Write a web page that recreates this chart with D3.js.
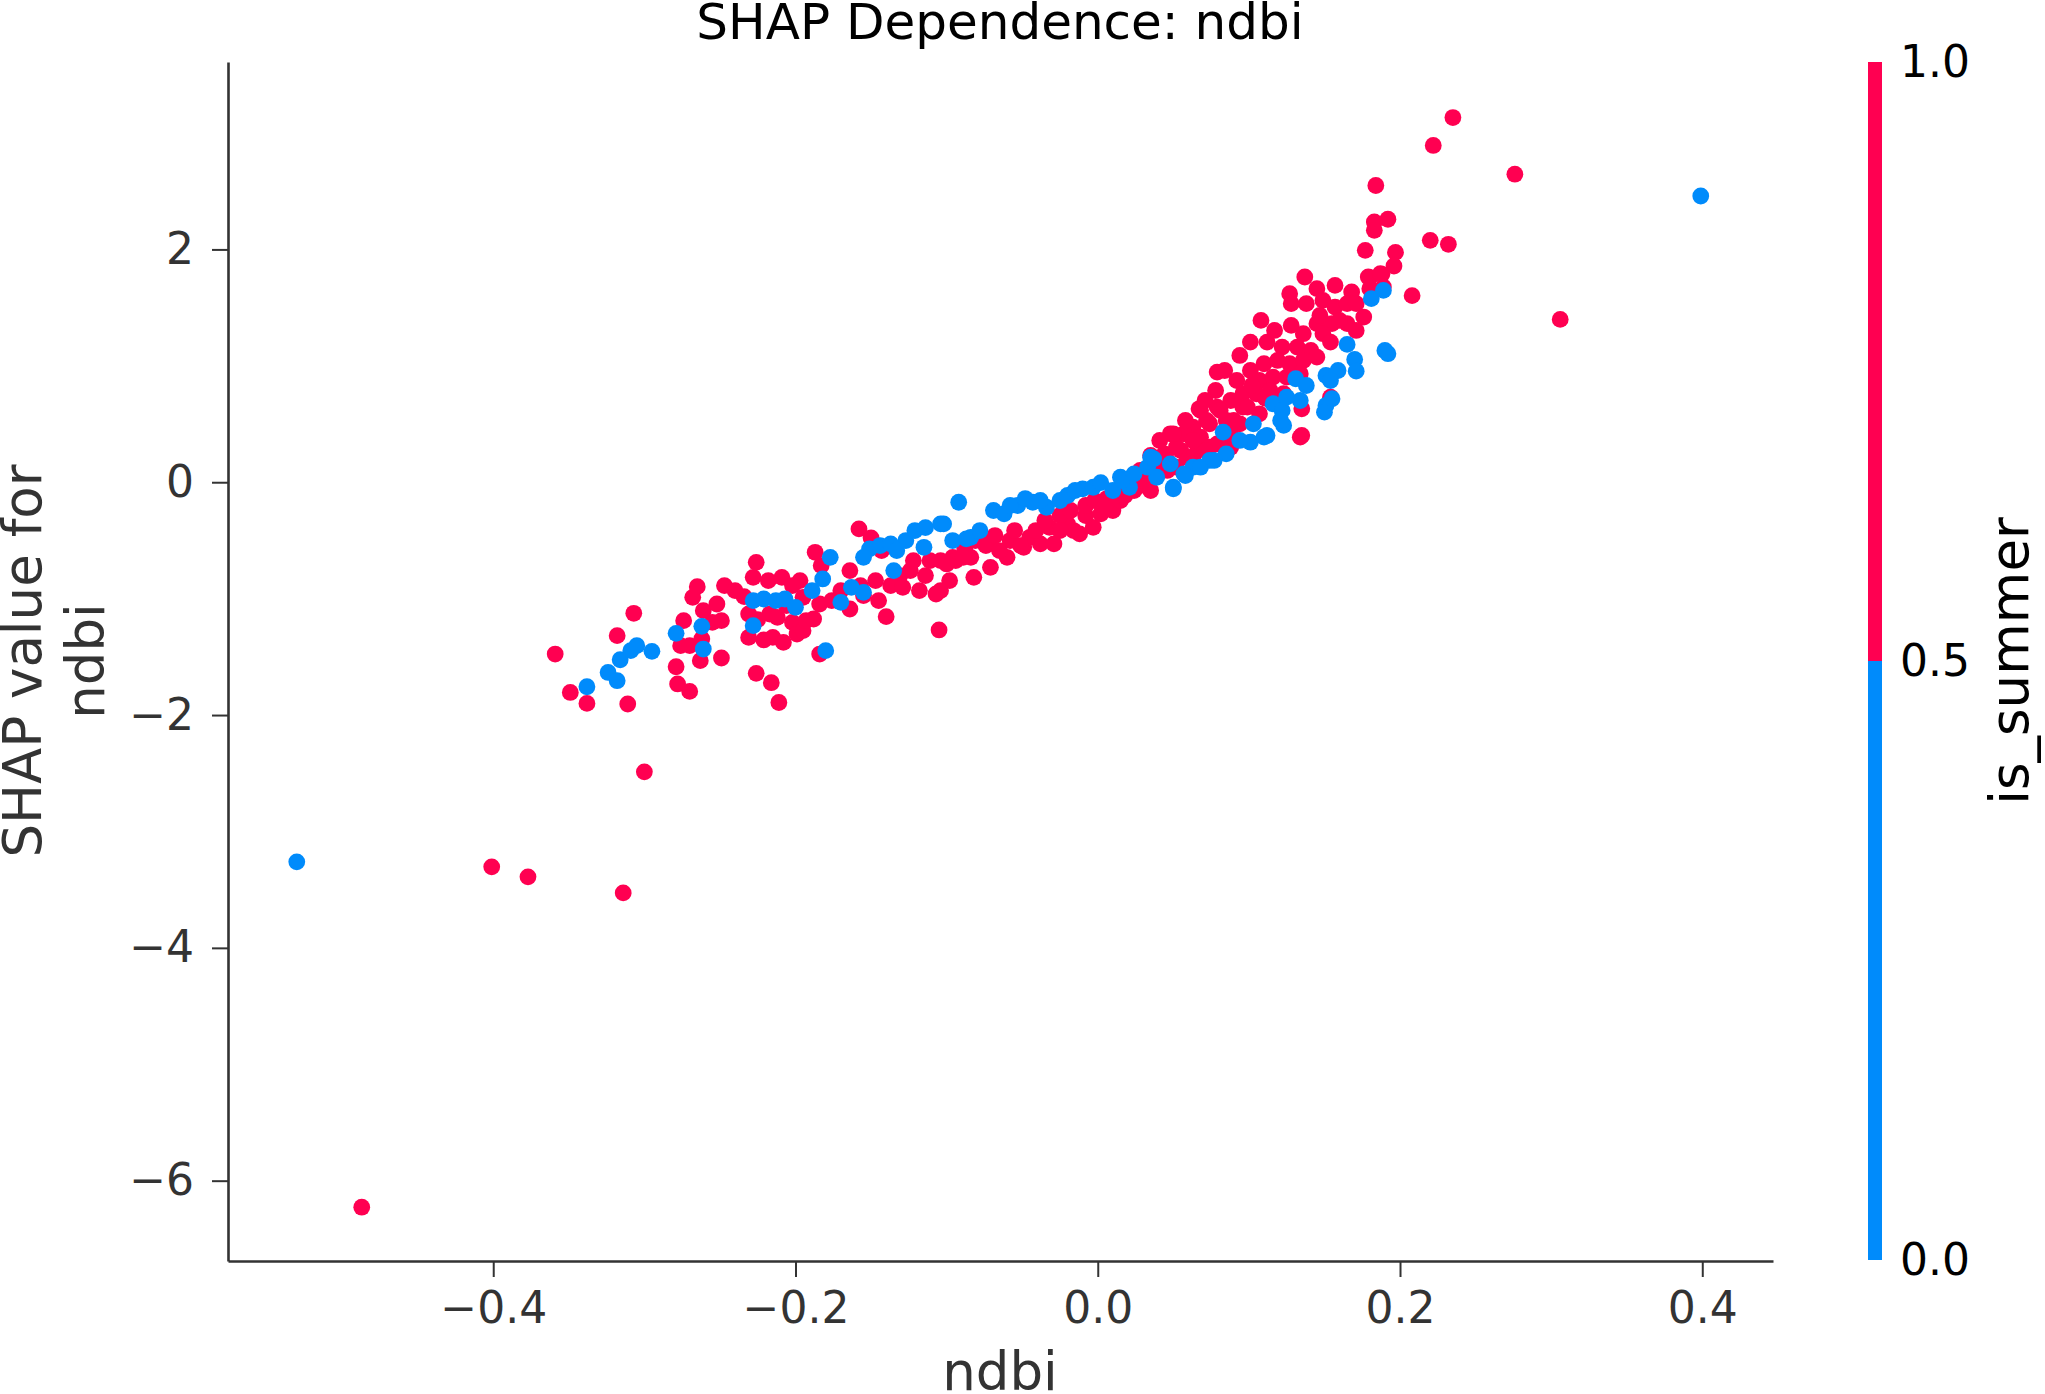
<!DOCTYPE html>
<html>
<head>
<meta charset="utf-8">
<script src="https://cdn.jsdelivr.net/npm/d3@7"></script>
<style>
  body { margin: 0; background: #fff; }
  svg { display: block; font-family: "DejaVu Sans", sans-serif; }
</style>
</head>
<body>
<svg id="chart"></svg>
<script>
// is_summer = 1 (ndbi, SHAP value)
const summerPoints = [
  [-0.487,-6.228],[-0.401,-3.304],[-0.377,-3.390],[-0.314,-3.528],[-0.300,-2.488],[-0.105,-1.269],
  [0.235,3.133],[0.222,2.893],[0.276,2.646],[0.184,2.549],[0.183,2.236],[0.192,2.259],[0.183,2.164],
  [0.220,2.078],[0.232,2.044],[0.177,1.992],[0.197,1.975],[0.196,1.857],[0.188,1.786],[0.180,1.758],
  [0.208,1.603],[0.306,1.399],[0.134,0.387],
  [0.137,1.763],[0.145,1.663],[0.157,1.691],[0.168,1.634],[0.127,1.620],[0.128,1.534],[0.138,1.534],
  [0.149,1.562],[0.157,1.505],[0.165,1.534],[0.171,1.534],[0.176,1.419],[0.145,1.362],[0.155,1.362],
  [0.165,1.362],[0.128,1.347],[0.136,1.276],[0.149,1.276],[0.154,1.204],[0.179,1.763],[0.187,1.792],
  [0.180,1.663],[0.189,1.677],[0.101,1.204],[0.112,1.204],[0.122,1.161],[0.132,1.161],[0.141,1.132],
  [0.079,0.946],[0.092,0.874],[0.101,0.960],[0.110,1.018],[0.119,1.046],[0.127,1.018],[0.136,1.046],
  [0.145,1.075],[0.107,0.874],[0.116,0.903],[0.125,0.903],[0.134,0.932],[0.096,0.760],[0.105,0.760],
  [0.114,0.788],[0.123,0.760],[0.135,0.631],[0.135,0.402],[0.067,0.631],[0.079,0.645],[0.088,0.702],
  [0.096,0.645],[0.074,0.502],[0.085,0.531],[0.094,0.502],[0.063,0.473],[0.048,0.416],[0.057,0.416],
  [0.068,0.387],[0.079,0.330],[0.088,0.301],[0.044,0.244],[0.055,0.273],[0.066,0.273],[0.028,0.101],
  [0.044,0.187],[0.046,0.101],[0.059,0.215],[0.074,0.301],[0.052,0.301],[0.050,0.416],[0.063,0.359],
  [0.068,0.617],[0.072,0.531],[0.081,0.617],[0.090,0.531],[0.099,0.645],[0.107,0.588],[0.052,0.129],
  [0.063,0.215],[0.072,0.273],[0.081,0.330],[0.088,0.416],[0.154,0.731],
  [0.108,1.390],[0.117,1.304],[0.147,1.433],[0.160,1.390],[0.171,1.304],[0.094,1.089],[0.084,0.960],
  [0.102,0.831],[0.111,0.720],[0.078,0.788],[0.071,0.703],[0.058,0.531],[0.041,0.359],[0.035,0.230],
  [-0.104,-0.673],[-0.104,-0.931],[-0.096,-0.645],[-0.084,-0.645],[-0.082,-0.817],[-0.071,-0.731],
  [-0.071,-0.501],[-0.060,-0.645],[-0.058,-0.501],[-0.049,-0.559],[-0.045,-0.473],[-0.038,-0.530],
  [-0.029,-0.530],[-0.032,-0.387],[-0.020,-0.358],[-0.016,-0.415],[-0.012,-0.444],[-0.003,-0.387],
  [0.002,-0.272],[0.010,-0.243],[0.015,-0.157],[0.024,-0.071],[0.033,0.015],[0.037,0.101],[0.046,0.187],
  [-0.025,-0.286],[-0.008,-0.286],[0.006,-0.140],[0.019,-0.028],[0.028,-0.028],[0.039,0.058],
  [-0.170,-0.931],[-0.157,-0.888],[-0.147,-0.845],[-0.137,-0.888],[-0.131,-0.802],[-0.124,-0.759],
  [-0.114,-0.802],[-0.094,-0.673],[-0.088,-0.572],[-0.081,-0.501],[-0.074,-0.544],[-0.068,-0.458],
  [-0.065,-0.587],[-0.055,-0.415],[-0.051,-0.544],[-0.041,-0.415],[-0.035,-0.329],[-0.025,-0.415],
  [-0.018,-0.243],[-0.008,-0.200],[-0.002,-0.157],[0.005,-0.200],[0.012,-0.114],[0.018,-0.114],
  [0.028,0.032],[0.035,-0.071],[0.041,0.101],
  [-0.359,-1.476],[-0.349,-1.806],[-0.338,-1.900],[-0.318,-1.318],[-0.307,-1.126],[-0.311,-1.905],
  [-0.279,-1.585],[-0.278,-1.733],[-0.270,-1.797],[-0.274,-1.189],[-0.276,-1.404],[-0.270,-1.404],
  [-0.263,-1.533],[-0.262,-1.347],[-0.261,-1.103],[-0.268,-0.989],[-0.265,-0.897],[-0.252,-1.046],
  [-0.247,-0.888],[-0.249,-1.189],[-0.255,-1.204],[-0.249,-1.510],[-0.226,-1.642],[-0.216,-1.722],
  [-0.211,-1.892],[-0.234,-0.983],[-0.231,-1.132],[-0.231,-1.333],[-0.221,-1.355],[-0.215,-1.333],
  [-0.208,-1.376],[-0.226,-0.688],[-0.228,-0.817],[-0.218,-0.845],[-0.209,-0.817],[-0.217,-1.132],
  [-0.212,-1.161],[-0.202,-1.204],[-0.199,-1.304],[-0.195,-1.275],[-0.193,-1.189],[-0.188,-1.175],
  [-0.197,-0.845],[-0.195,-0.989],[-0.202,-0.888],[-0.184,-1.476],[-0.187,-0.602],[-0.183,-0.716],
  [-0.184,-1.046],[-0.176,-1.017],[-0.164,-1.089],[-0.164,-0.759],[-0.158,-0.401],[-0.150,-0.478],
  [-0.143,-0.587],[-0.140,-1.155],[-0.155,-0.974],[-0.145,-1.017],[-0.129,-0.903],[-0.118,-0.931],
  [-0.107,-0.960],[-0.098,-0.845],[-0.089,-0.645],[-0.122,-0.673],[-0.111,-0.673],[-0.100,-0.702],
  [-0.240,-0.931],[-0.206,-1.060],[-0.225,-1.180]
];

// is_summer = 0
const otherPoints = [
  [-0.530,-3.261],[0.399,2.459],
  [0.165,1.184],[0.170,1.055],[0.171,0.954],[0.159,0.960],[0.151,0.917],[0.190,1.132],[0.192,1.104],
  [0.151,0.660],[0.150,0.602],[0.189,1.648],[0.181,1.577],[0.154,0.874],[0.131,0.889],[0.138,0.831],
  [0.134,0.702],[0.116,0.674],[0.122,0.617],[0.123,0.488],[0.112,0.402],[0.103,0.502],[0.101,0.344],
  [0.083,0.430],[0.094,0.359],[0.155,0.717],[0.125,0.731],[0.121,0.531],[0.110,0.387],[0.085,0.244],
  [0.035,0.215],[0.015,0.043],[0.021,-0.043],[0.039,0.043],[0.050,-0.043],[0.033,0.129],[0.057,0.072],
  [0.063,0.129],[0.074,0.187],
  [-0.092,-0.172],[-0.102,-0.358],[-0.096,-0.501],[-0.084,-0.473],[-0.078,-0.415],[-0.069,-0.243],
  [-0.062,-0.272],[-0.053,-0.200],[-0.043,-0.172],[-0.034,-0.215],[-0.025,-0.157],[-0.020,-0.114],
  [-0.010,-0.057],[-0.003,-0.043],[0.010,-0.071],[0.016,0.015],[0.024,0.072],[0.037,0.201],
  [0.048,0.158],[0.050,-0.057],[0.058,0.058],[0.068,0.129],[0.077,0.187],
  [-0.151,-0.572],[-0.144,-0.544],[-0.127,-0.501],[-0.121,-0.415],[-0.114,-0.390],[-0.058,-0.200],
  [-0.048,-0.140],[-0.038,-0.157],[-0.015,-0.071],[0.002,-0.003],
  [-0.338,-1.757],[-0.324,-1.634],[-0.318,-1.705],[-0.316,-1.525],[-0.309,-1.447],[-0.305,-1.404],
  [-0.295,-1.453],[-0.279,-1.298],[-0.262,-1.238],[-0.261,-1.433],[-0.228,-1.017],[-0.221,-1.003],
  [-0.213,-1.017],[-0.207,-1.003],[-0.200,-1.075],[-0.228,-1.232],[-0.189,-0.931],[-0.182,-0.831],
  [-0.177,-0.645],[-0.170,-1.032],[-0.180,-1.447],[-0.155,-0.645],[-0.137,-0.530],[-0.133,-0.587],
  [-0.155,-0.946],[-0.163,-0.903],[-0.135,-0.759],[-0.115,-0.559],[-0.104,-0.358],[-0.087,-0.487]
];

const xTicks = [-0.4, -0.2, 0, 0.2, 0.4];
const yTicks = [-6, -4, -2, 0, 2];
const colorTicks = [0, 0.5, 1];
const colorBands = [[0, 0.5], [0.5, 1]];

const blue = '#008bfb';
const red = '#ff0051';
const dark = '#333333';

const width = 2045, height = 1394;
const plot = { left: 228, right: 1773, top: 62, bottom: 1261 };

const svg = d3.select('#chart')
  .attr('width', width)
  .attr('height', height)
  .style('background-color', '#fff');

// scales
const x = d3.scaleLinear()
  .domain([-0.5755, 0.4468])
  .range([plot.left, plot.right]);

const y = d3.scaleLinear()
  .domain([-6.69, 3.61])
  .range([plot.bottom, plot.top]);

const colorScale = d3.scaleThreshold()
  .domain([0.5])
  .range([blue, red]);

// points: summer first, others drawn on top
const points = summerPoints.map(d => ({ ndbi: d[0], shap: d[1], summer: 1 }))
  .concat(otherPoints.map(d => ({ ndbi: d[0], shap: d[1], summer: 0 })));

svg.append('g')
  .selectAll('circle')
  .data(points)
  .join('circle')
  .attr('cx', d => x(d.ndbi))
  .attr('cy', d => y(d.shap))
  .attr('r', 8.4)
  .attr('fill', d => colorScale(d.summer));

// x axis
const xAxis = svg.append('g')
  .attr('transform', `translate(0,${plot.bottom})`)
  .call(d3.axisBottom(x)
    .tickValues(xTicks)
    .tickFormat(d3.format('.1f'))
    .tickSize(16)
    .tickSizeOuter(0)
    .tickPadding(15));

// y axis
const yAxis = svg.append('g')
  .attr('transform', `translate(${plot.left},0)`)
  .call(d3.axisLeft(y)
    .tickValues(yTicks)
    .tickFormat(d3.format('d'))
    .tickSize(16)
    .tickSizeOuter(0)
    .tickPadding(18));

[xAxis, yAxis].forEach(g => {
  g.select('.domain').attr('stroke', dark).attr('stroke-width', 2.6);
  g.selectAll('.tick line').attr('stroke', dark).attr('stroke-width', 2);
  g.selectAll('.tick text')
    .attr('fill', dark)
    .style('font-size', '44px')
    .style('font-family', '"DejaVu Sans", sans-serif');
});

// colorbar
const cb = d3.scaleLinear().domain([0, 1]).range([1260, 62]);

svg.append('g')
  .selectAll('rect')
  .data(colorBands)
  .join('rect')
  .attr('x', 1868)
  .attr('width', 14)
  .attr('y', d => cb(d[1]))
  .attr('height', d => cb(d[0]) - cb(d[1]))
  .attr('fill', d => colorScale(d[0]));

const cbAxis = svg.append('g')
  .attr('transform', 'translate(1882,0)')
  .call(d3.axisRight(cb)
    .tickValues(colorTicks)
    .tickFormat(d3.format('.1f'))
    .tickSize(0)
    .tickPadding(18));
cbAxis.select('.domain').remove();
cbAxis.selectAll('.tick text')
  .attr('fill', '#000')
  .style('font-size', '44px')
  .style('font-family', '"DejaVu Sans", sans-serif');

svg.append('text')
  .attr('transform', 'translate(2028,661) rotate(-90)')
  .attr('text-anchor', 'middle')
  .attr('fill', '#000')
  .style('font-size', '53px')
  .text('is_summer');

// title and labels
svg.append('text')
  .attr('x', 1000)
  .attr('y', 39)
  .attr('text-anchor', 'middle')
  .attr('fill', '#000')
  .style('font-size', '50px')
  .text('SHAP Dependence: ndbi');

svg.append('text')
  .attr('x', 1000)
  .attr('y', 1390)
  .attr('text-anchor', 'middle')
  .attr('fill', dark)
  .style('font-size', '53px')
  .text('ndbi');

const yLabel = svg.append('text')
  .attr('transform', 'translate(0,661) rotate(-90)')
  .attr('text-anchor', 'middle')
  .attr('fill', dark)
  .style('font-size', '53px');
yLabel.append('tspan').attr('x', 0).attr('y', 41).text('SHAP value for');
yLabel.append('tspan').attr('x', 0).attr('y', 104).text('ndbi');
</script>
</body>
</html>
